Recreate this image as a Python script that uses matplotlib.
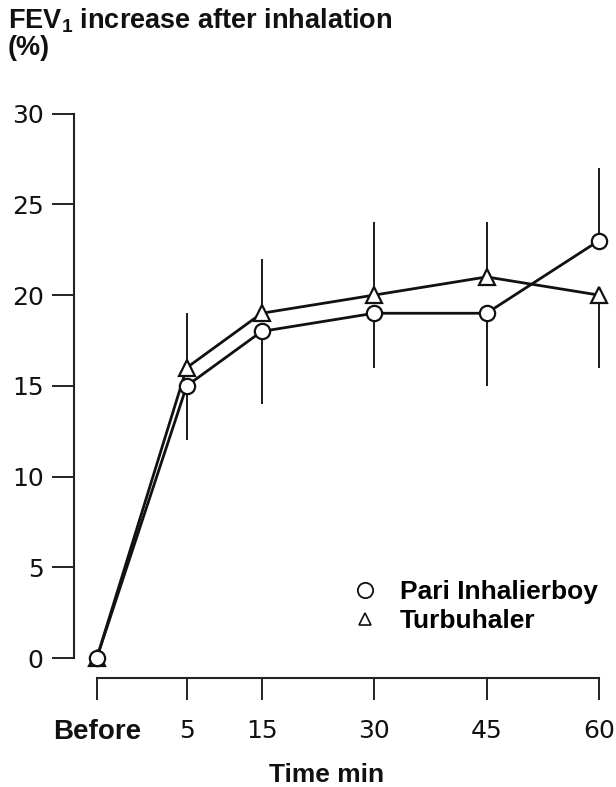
import matplotlib
matplotlib.use("Agg")
import matplotlib.pyplot as plt
from matplotlib.lines import Line2D

# ---- data ----
time_labels = ["Before", "5", "15", "30", "45", "60"]
time_pos = [-7, 5, 15, 30, 45, 60]          # minutes ("Before" placed before 5)
pari = [0, 15, 18, 19, 19, 23]
pari_err_low = [0, 3, 4, 3, 4, 0]
pari_err_high = [0, 0, 0, 0, 0, 4]
turbu = [0, 16, 19, 20, 21, 20]
turbu_err_low = [0, 0, 0, 0, 0, 4]
turbu_err_high = [0, 3, 3, 4, 3, 0]
yticks = [0, 5, 10, 15, 20, 25, 30]

plt.rcParams["mathtext.fontset"] = "custom"
plt.rcParams["mathtext.rm"] = "Liberation Sans:bold"
plt.rcParams["mathtext.bf"] = "Liberation Sans:bold"

num_font = "DejaVu Sans"
bold_font = "Liberation Sans"
ink = "#111111"

fig = plt.figure(figsize=(6.16, 7.87), dpi=100)
ax = fig.add_axes([0.1205, 0.1382, 0.8763, 0.7245])
ax.set_xlim(-10, 62)
ax.set_ylim(-1.1, 30.3)

lw = 2.0
ax.errorbar(time_pos, pari, yerr=[pari_err_low, pari_err_high], fmt="none",
            ecolor="#1a1a1a", elinewidth=1.4, capsize=0, zorder=2)
ax.errorbar(time_pos, turbu, yerr=[turbu_err_low, turbu_err_high], fmt="none",
            ecolor="#1a1a1a", elinewidth=1.4, capsize=0, zorder=2)
ax.plot(time_pos, turbu, color=ink, lw=lw, marker="^", markersize=12,
        markerfacecolor="white", markeredgecolor=ink, markeredgewidth=1.6, zorder=3)
ax.plot(time_pos, pari, color=ink, lw=lw, marker="o", markersize=11,
        markerfacecolor="white", markeredgecolor=ink, markeredgewidth=1.6, zorder=4)

for s in ["top", "right"]:
    ax.spines[s].set_visible(False)
ax.spines["left"].set_bounds(0, 30)
ax.spines["bottom"].set_bounds(time_pos[0], time_pos[-1])
for s in ["left", "bottom"]:
    ax.spines[s].set_linewidth(1.5)
    ax.spines[s].set_color("#222222")

ax.set_yticks(yticks)
ax.set_yticklabels([str(v) for v in yticks], fontfamily=num_font, fontsize=18)
ax.set_xticks(time_pos)
ax.set_xticklabels(time_labels, fontfamily=num_font, fontsize=18)
first = ax.get_xticklabels()[0]
first.set_fontfamily(bold_font)
first.set_fontweight("bold")
first.set_fontsize(20)
ax.tick_params(axis="both", direction="out", length=16, width=1.4, color="#222222",
               labelcolor=ink)
ax.tick_params(axis="y", pad=6)
ax.tick_params(axis="x", pad=13)

ax.set_xlabel("Time min", fontfamily=bold_font, fontweight="bold", fontsize=19,
              color=ink)
ax.xaxis.set_label_coords(0.468, -0.149)

fig.text(0.013, 0.973, r"FEV$_{1}$ increase after inhalation", fontfamily=bold_font,
         fontweight="bold", fontsize=19.5, va="center", ha="left", color=ink)
fig.text(0.013, 0.939, "(%)", fontfamily=bold_font, fontweight="bold", fontsize=19.5,
         va="center", ha="left", color=ink)

handles = [
    Line2D([], [], ls="none", marker="o", markersize=11, markerfacecolor="white",
           markeredgecolor=ink, markeredgewidth=1.3, label="Pari Inhalierboy"),
    Line2D([], [], ls="none", marker="^", markersize=8, markerfacecolor="white",
           markeredgecolor=ink, markeredgewidth=1.2, label="Turbuhaler"),
]
leg = ax.legend(handles=handles, loc="upper left", bbox_to_anchor=(0.52, 0.172),
                frameon=False, handlelength=0.8, handletextpad=0.9, labelspacing=0.2,
                prop={"family": bold_font, "weight": "bold", "size": 19},
                borderaxespad=0, borderpad=0)

fig.savefig("out.png", dpi=100, facecolor="white")
